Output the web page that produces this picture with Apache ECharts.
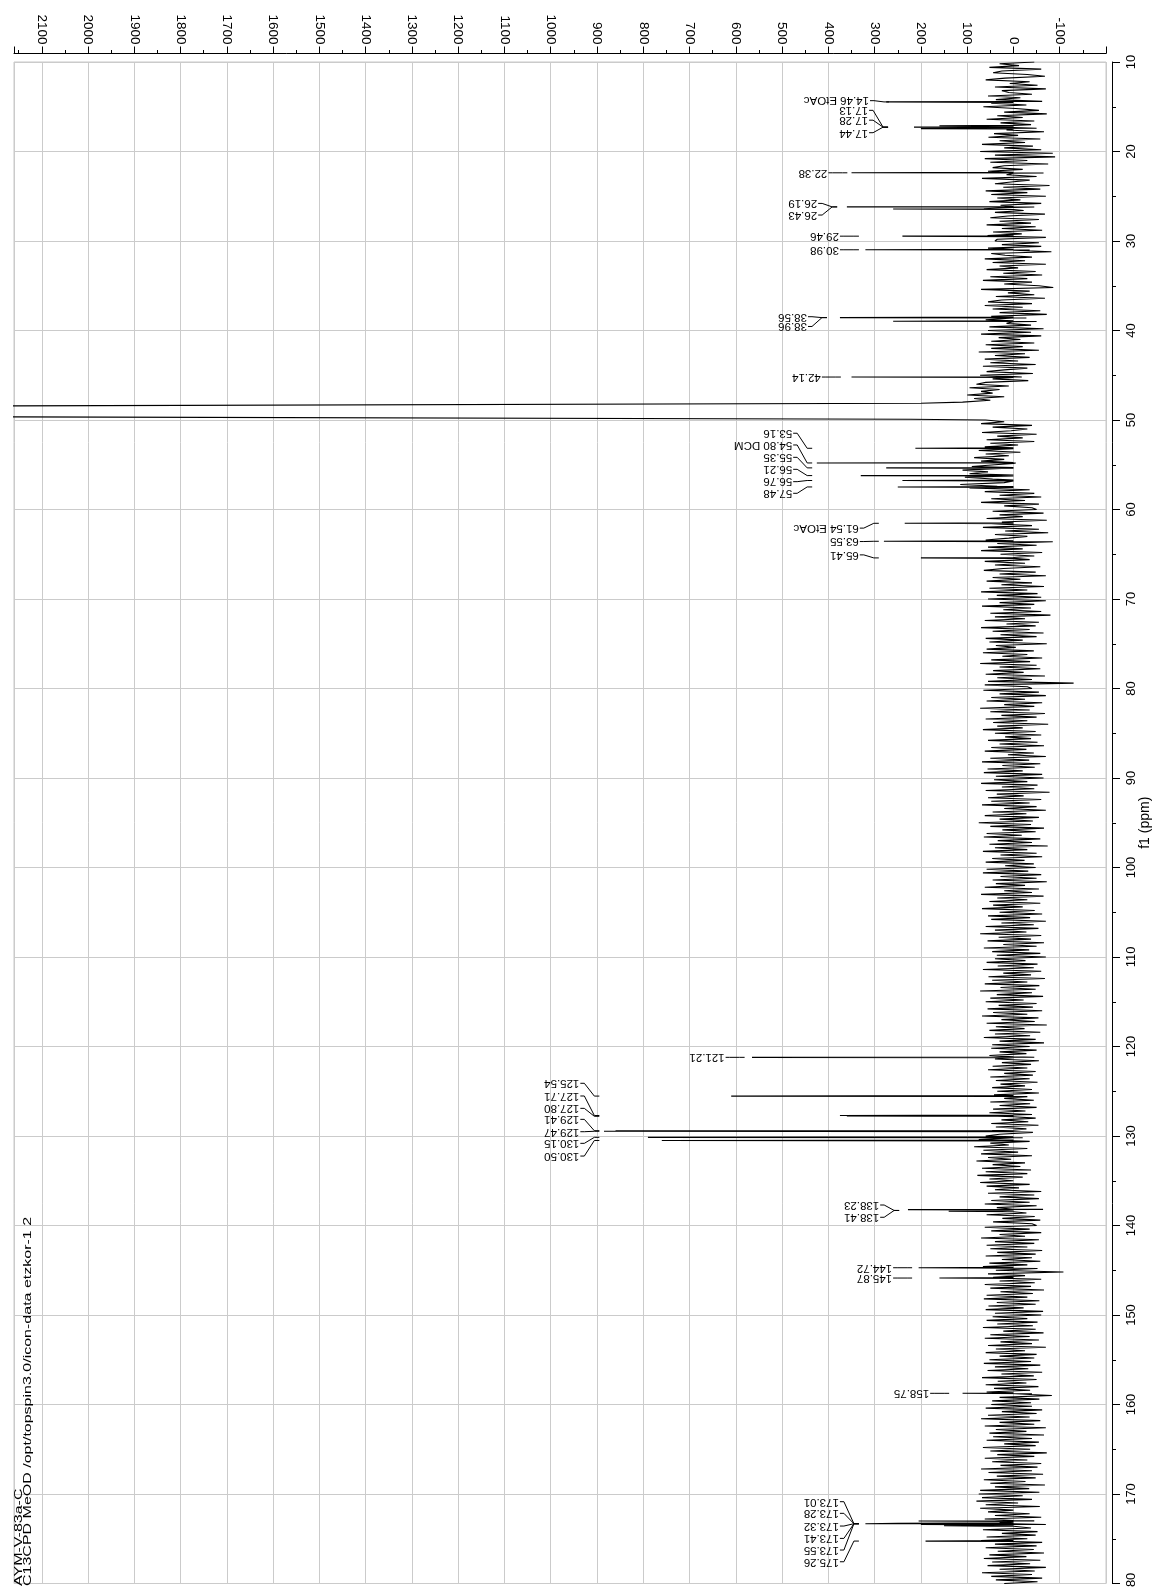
<!DOCTYPE html>
<html><head><meta charset="utf-8">
<script src="https://cdn.jsdelivr.net/npm/echarts@6/dist/echarts.min.js"></script>
<style>html,body{margin:0;padding:0;background:#fff}#chart{width:1156px;height:1587px}</style>
</head><body><div id="chart"></div>
<script>
// ---------- DATA ----------
const noiseStartPpm = 10;
const noiseStepPpm = 0.2;
const noiseIntensity = [
  // 10 - 19.8
  -45, 30, -12, 52, -60, 25, 44, -30, -68, 18,  60, -35, 8, -52, 40, -70, 25, 10, -40, 55,
  -15, 38, -62, 48, -28, 65, -5, -55, 20, -72,  35, -20, 58, -45, 28, -38, 62, -50, 15, -66,
  42, -10, 54, -58, 30, -25, 68, -42, 20, -60,
  // 20 - 29.8
  72, -85, 40, -90, 62, -30, 50, -75, 20, 45,  -20, 55, -65, 15, -50, 68, -35, 5, 40, -78,
  22, -58, 60, -30, 48, -70, 35, -15, 52, -60,  28, -45, 64, -22, 40, -68, 12, 50, -55, 30,
  -38, 58, -48, 25, -62, 44, -18, 56, -70, 35,
  // 30 - 39.8
  40, -55, 25, -60, 55, -35, -82, 48, 18, -40,  62, -25, 45, -70, 30, -10, 58, -48, 22, -62,
  50, -30, 66, -40, 20, -55, -86, 70, -35, 12,  -45, 38, -68, 26, 55, -40, 62, -20, 45, -58,
  30, -72, 48, -28, 60, -50, 15, -38, 52, -65,
  // 40 - 49.8
  55, -38, 70, -60, 32, -15, 48, -45, 60, -20,  48, -55, 75, -25, 40, -35, 62, -10, 50, -48,
  66, -30, 20, 58, -42, 72, -18, 45, -32, 60,  80, 10, 95, 30, 70, 45, 100, 20, 85, 50,
  110, null, null, null, null, null, null, null, null, null,
  // 50 - 59.8
  60, 20, 70, -40, 45, -30, 5, 68, -50, 35,  -20, 58, -45, 50, -10, 62, 5, 75, -15, 60,
  10, 85, 20, 70, -5, 40, 90, 25, 110, 55,  95, 30, 105, 45, 60, 20, 115, 35, 95, -35,
  62, -45, 30, -60, 48, -25, 70, -55, 20, -40,
  // 60 - 69.8
  -50, 45, -65, 30, -20, 58, -72, 25, 48, -40,  66, -55, 18, -75, 40, -30, 10, 60, -85, 35,
  -50, 55, -20, 70, -62, 28, -45, 50, -35, 62,  -25, 40, -58, 22, 64, -48, 30, -70, 45, -15,
  58, -40, 26, -66, 52, -30, 70, -52, 36, -60,
  // 70 - 79.8
  55, -70, 30, -45, 68, -38, 22, -60, 50, -80,  40, -25, 62, -55, 15, -48, 70, -35, 45, -65,
  28, -50, 60, -20, 52, -72, 38, -5, 58, -44,  66, -30, 24, -62, 48, -36, 72, -50, 30, -58,
  44, -22, 60, -68, 35, -40, 55, -130, 62, -30,
  // 80 - 89.8
  -40, 65, -55, 30, -70, 48, -25, 58, -62, 20,  -45, 72, -35, 50, -68, 26, -50, 60, -30, 44,
  -75, 35, -20, 66, -48, 40, -60, 18, -38, 55,  -52, 30, -66, 48, -28, 62, -44, 12, -70, 50,
  -34, 68, -58, 24, -46, 56, -20, 64, -62, 38,
  // 90 - 99.8
  -65, 42, -30, 70, -52, 25, -45, 60, -78, 36,  -22, 55, -60, 48, -35, 68, -50, 20, -70, 45,
  -28, 62, -55, 30, -42, 75, -38, 50, -66, 24,  -48, 58, -18, 64, -58, 34, -40, 52, -74, 40,
  -30, 66, -50, 28, -62, 46, -24, 60, -44, 18,
  // 100 - 109.8
  -48, 58, -32, 66, -60, 28, -50, 45, -72, 38,  -25, 62, -55, 20, -40, 70, -65, 35, -30, 52,
  -58, 44, -20, 68, -46, 30, -62, 55, -36, 48,  -70, 26, -44, 60, -54, 40, -28, 72, -60, 32,
  -38, 56, -66, 22, -50, 64, -34, 46, -58, 36,
  // 110 - 119.8
  -70, 40, -26, 58, -52, 34, -44, 66, -60, 22,  -38, 54, -68, 46, -30, 62, -56, 28, -48, 72,
  -40, 36, -64, 50, -22, 60, -50, 32, -42, 56,  -62, 44, -30, 68, -54, 26, -46, 58, -72, 38,
  -24, 52, -58, 40, -36, 64, -48, 30, -66, 46,
  // 120 - 129.8
  -35, 48, -50, 30, -28, 52, -45, 40, -55, 25,  -38, 45, -30, 55, -48, 20, -42, 50, -35, 38,
  -52, 28, -25, 46, -40, 35, -55, 42, -30, 20,  -44, 50, -36, 30, -50, 44, -26, 52, -40, 34,
  -48, 26, -32, 48, -54, 38, -28, 46, -42, 30,
  // 130 - 139.8
  60, -20, 75, -35, 50, 10, 85, -30, 65, -10,  70, -40, 55, 5, 80, -25, 45, -15, 68, -38,
  60, -30, 78, -20, 52, 0, 72, -35, 58, -12,  40, -60, 55, -45, 30, -55, 48, -35, 62, -50,
  36, -64, 50, -28, 58, -46, 24, -58, 44, -40,
  // 140 - 149.8
  -50, 62, -35, 48, -60, 30, -25, 70, -55, 40,  -45, 58, -30, 50, -62, 35, -48, 60, -40, 25,
  -58, 52, -30, 66, -52, 38, -108, 55, -25, 44,  -60, 30, -46, 62, -38, 50, -66, 28, -42, 58,
  -30, 64, -56, 36, -48, 54, -22, 60, -64, 40,
  // 150 - 159.8
  -60, 45, -30, 58, -52, 35, -42, 66, -48, 22,  -65, 50, -35, 62, -55, 28, -40, 55, -70, 38,
  -25, 60, -50, 30, -45, 52, -38, 64, -58, 40,  -32, 56, -62, 26, -44, 68, -50, 34, -28, 60,
  -54, 42, -36, 58, -40, -83, 30, -56, 46, -38,
  // 160 - 169.8
  48, -40, 60, -62, 25, -50, 55, -35, 70, -58,  30, -45, 62, -70, 38, -28, 52, -66, 44, -40,
  58, -55, 20, -48, 66, -36, 50, -72, 35, -45,  62, -30, 46, -60, 28, -52, 70, -40, 54, -64,
  36, -48, 64, -26, 50, -68, 40, -34, 72, -56,
  // 170 - 179.8
  75, -20, 68, -40, 80, -10, 60, -57, 72, 0,  55, -35, 40, -60, 62, -45, 30, -70, 50, -38,
  66, -52, 25, -48, 58, -30, 70, -62, 40, -50,  60, -44, 34, -66, 52, -28, 64, -58, 46, -36,
  56, -70, 30, -46, 68, -40, 48, -62, 38, -52,
  // 180
  20
];
const peakPpm = [14.46, 17.13, 17.28, 17.44, 22.38, 26.19, 26.43, 29.46, 30.98, 38.56, 38.96, 45.2,
  53.16, 54.80, 55.35, 56.21, 56.76, 57.48, 61.54, 63.55, 65.41, 121.21, 125.54, 127.71, 127.80,
  129.41, 129.47, 130.15, 130.50, 138.23, 138.41, 144.72, 145.87, 158.75, 173.01, 173.28, 173.32,
  173.41, 173.55, 175.26];
const peakIntensity = [275, 160, 215, 200, 350, 360, 260, 240, 320, 375, 260, 350,
  212, 425, 275, 330, 240, 250, 235, 280, 200, 565, 610, 375, 360,
  860, 885, 790, 760, 228, 140, 205, 160, 110, 205, 250, 320,
  200, 150, 190];
const solventPpm = [48.13, 49.05, 49.92];
const solventIntensity = [200, 6400, 222];

const labelText = ['14.46 EtOAc', '17.13', '17.28', '17.44', '22.38', '26.19', '26.43', '29.46', '30.98',
  '38.56', '38.96', '42.14', '53.16', '54.80 DCM', '55.35', '56.21', '56.76', '57.48',
  '61.54 EtOAc', '63.55', '65.41', '121.21', '125.54', '127.71', '127.80', '129.41', '129.47',
  '130.15', '130.50', '138.23', '138.41', '144.72', '145.87', '158.75',
  '173.01', '173.28', '173.32', '173.41', '173.55', '175.26'];
const labelPpm = [14.32, 15.4, 16.5, 17.9, 22.38, 25.8, 27.1, 29.46, 30.98,
  38.46, 39.55, 45.2, 51.48, 52.79, 54.17, 55.51, 56.89, 58.19,
  62.08, 63.58, 65.07, 121.21, 124.11, 125.53, 126.91, 128.14, 129.52,
  130.82, 132.24, 137.71, 139.08, 144.72, 145.87, 158.75,
  170.86, 172.16, 173.58, 174.96, 176.26, 177.57];
const labelLeaderPpm = [14.46, 17.28, 17.28, 17.28, 22.38, 26.19, 26.19, 29.46, 30.98,
  38.56, 38.56, 45.2, 53.16, 54.80, 55.35, 56.21, 56.76, 57.48,
  61.54, 63.55, 65.41, 121.21, 125.54, 127.71, 127.80, 129.41, 129.47,
  130.15, 130.50, 138.32, 138.32, 144.72, 145.87, 158.75,
  173.32, 173.32, 173.32, 173.32, 173.32, 175.26];
const labelLeaderIntensity = [269, 271, 271, 271, 359, 381, 381, 334, 334,
  403, 403, 373, 435, 435, 435, 435, 435, 435,
  291, 291, 291, 581, 895, 895, 895, 895, 895,
  895, 895, 247, 247, 219, 219, 139,
  334, 334, 334, 334, 334, 334];

const intensityMin = -200, intensityMax = 2160, intensityStep = 100;
const ppmMin = 10, ppmMax = 180, ppmStep = 10;
const axisName = 'f1 (ppm)';
const titleLines = ['AYM-V-83a-C', 'C13CPD MeOD /opt/topspin3.0/icon-data etzkor-1 2'];

// ---------- BUILD ----------
const spectrum = [];
noiseIntensity.forEach((v, i) => { if (v !== null) spectrum.push([v, noiseStartPpm + i * noiseStepPpm]); });
peakPpm.forEach((p, i) => { spectrum.push([0, p - 0.05], [peakIntensity[i], p], [0, p + 0.05]); });
solventPpm.forEach((p, i) => spectrum.push([solventIntensity[i], p]));
spectrum.sort((a, b) => a[1] - b[1]);

const labelData = labelText.map((t, i) => [labelLeaderIntensity[i], labelLeaderPpm[i], labelPpm[i]]);

const FONT = '"Liberation Sans", Arial, Helvetica, sans-serif';
const chart = echarts.init(document.getElementById('chart'), null, { renderer: 'canvas', width: 1156, height: 1587 });

chart.setOption({
  animation: false,
  backgroundColor: '#ffffff',
  grid: { left: 14, right: 50, top: 62, bottom: 3.5, show: true, borderColor: '#c8c8c8', borderWidth: 1,
          containLabel: false, outerBoundsMode: 'none' },
  xAxis: {
    type: 'value', position: 'top', inverse: true, min: intensityMin, max: intensityMax, interval: intensityStep,
    offset: 8.5,
    axisLine: { show: true, onZero: false, lineStyle: { color: '#000', width: 1 } },
    axisTick: { show: true, inside: false, length: 7, lineStyle: { color: '#000', width: 1 } },
    minorTick: { show: true, splitNumber: 2, length: 3.5, lineStyle: { color: '#000', width: 1 } },
    axisLabel: { show: true, rotate: 90, margin: 9, fontSize: 13.5, fontFamily: FONT, color: '#000', hideOverlap: false,
      showMinLabel: false, showMaxLabel: false,
      formatter: v => (v < -100 || v > 2100) ? '' : String(v) },
    splitLine: { show: true, lineStyle: { color: '#cbcbcb', width: 1 } },
    minorSplitLine: { show: false }
  },
  yAxis: {
    type: 'value', position: 'right', inverse: true, min: ppmMin, max: ppmMax, interval: ppmStep,
    offset: 6,
    name: axisName, nameLocation: 'middle', nameGap: 26, nameRotate: 90, nameMoveOverlap: false,
    nameTextStyle: { fontSize: 14, fontFamily: FONT, color: '#000' },
    axisLine: { show: true, onZero: false, lineStyle: { color: '#000', width: 1 } },
    axisTick: { show: true, inside: false, length: 8, lineStyle: { color: '#000', width: 1 } },
    minorTick: { show: true, splitNumber: 2, length: 4, lineStyle: { color: '#000', width: 1 } },
    axisLabel: { show: true, rotate: 90, margin: 13, fontSize: 13, fontFamily: FONT, color: '#000', hideOverlap: false,
      formatter: v => String(v) },
    splitLine: { show: true, lineStyle: { color: '#cbcbcb', width: 1 } }
  },
  series: [
    {
      type: 'line', data: spectrum, showSymbol: false, symbol: 'none', clip: true, silent: true, z: 3,
      lineStyle: { color: '#000', width: 1.1 }
    },
    {
      type: 'custom', coordinateSystem: 'cartesian2d', data: labelData, encode: { x: 0, y: 1 }, silent: true, z: 4,
      renderItem: function (params, api) {
        const end = api.coord([api.value(0), api.value(1)]);
        const ty = api.coord([api.value(0), api.value(2)])[1];
        const tx = end[0] - 20;
        return {
          type: 'group',
          children: [
            { type: 'polyline', shape: { points: [[tx + 1, ty], [tx + 5, ty], [end[0] - 5, end[1]], [end[0], end[1]]] },
              style: { stroke: '#000', lineWidth: 1, fill: null } },
            { type: 'text', x: tx, y: ty, rotation: Math.PI,
              style: { text: labelText[params.dataIndex], fill: '#000', font: '11.5px ' + FONT,
                       align: 'left', verticalAlign: 'middle' } }
          ]
        };
      }
    }
  ],
  graphic: titleLines.map((t, i) => ({
    type: 'text', x: 19 + i * 8.8, y: 1586, rotation: Math.PI / 2, scaleX: 1.6, silent: true, z: 10,
    style: { text: t, fill: '#000', font: '10px ' + FONT, align: 'left', verticalAlign: 'middle' }
  }))
});
</script>
</body></html>
